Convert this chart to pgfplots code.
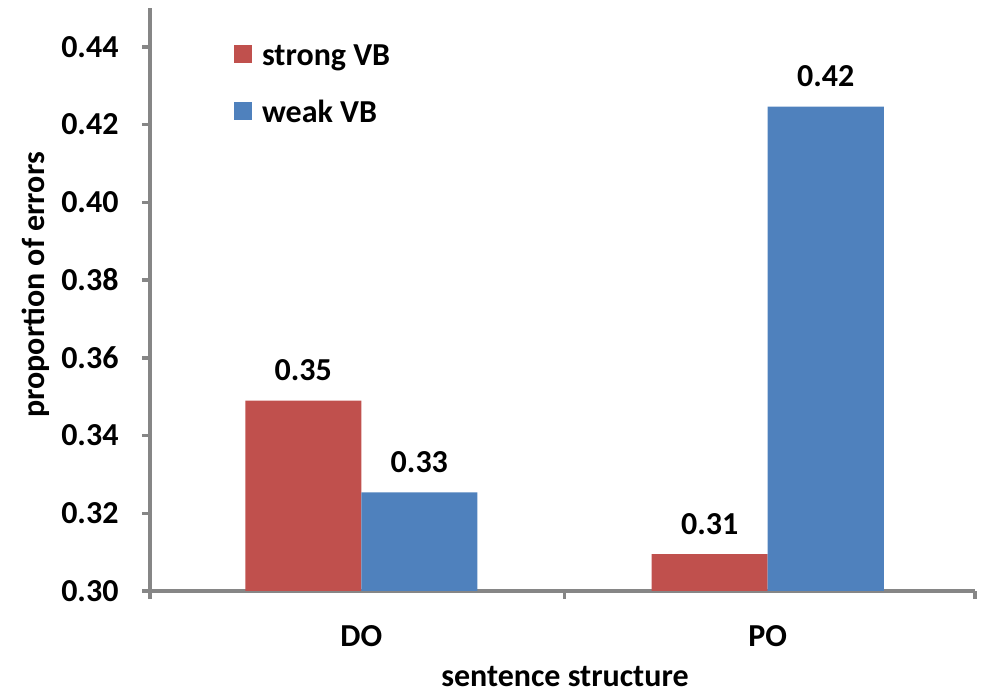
\documentclass[border=0pt]{standalone}
\usepackage{fontspec}
\setmainfont{Carlito}
\usepackage{pgfplots}
\pgfplotsset{compat=1.18}
\definecolor{cred}{HTML}{C0504D}
\definecolor{cblue}{HTML}{4F81BD}
\definecolor{axgray}{HTML}{868686}
\newcommand{\cf}{\fontsize{32}{38}\selectfont\bfseries}
\begin{document}
\begin{tikzpicture}[x=1pt,y=1pt]
\useasboundingbox (0,0) rectangle (985,698);
\begin{axis}[
  at={(150pt,107pt)}, anchor=south west,
  scale only axis, width=825pt, height=583pt,
  xmin=-0.52, xmax=1.51, ymin=0.30, ymax=0.45,
  ybar, bar width=0.2855,
  axis x line*=bottom, axis y line*=left,
  axis line style={axgray, line width=3.5pt},
  tick align=outside, major tick length=8pt,
  tick style={axgray, line width=3.5pt},
  ytick={0.30,0.32,0.34,0.36,0.38,0.40,0.42,0.44},
  yticklabel style={xshift=-20pt, /pgf/number format/fixed, /pgf/number format/fixed zerofill, /pgf/number format/precision=2},
  /pgf/number format/assume math mode=true,
  tick label style={font=\cf, text=black},
  xtick={-0.52,0.5,1.51}, xticklabels={},
  extra x ticks={0,1}, extra x tick labels={DO,PO},
  extra x tick style={major tick length=0pt, xticklabel style={yshift=-31pt}},
  xlabel={sentence structure}, ylabel={proportion of errors},
  label style={font=\cf},
  xlabel style={at={(axis description cs:0.503,-0.146)}, anchor=center},
  ylabel style={at={(axis description cs:-0.139,0.525)}, anchor=center},
  nodes near coords,
  nodes near coords style={font=\cf, text=black, yshift=16pt, /pgf/number format/fixed, /pgf/number format/fixed zerofill, /pgf/number format/precision=2},
  legend style={at={(0.098,0.945)}, anchor=north west, draw=none, fill=none, font=\cf, row sep=30pt},
  legend cell align=left,
]
\addplot[bar shift=-0.14275, fill=cred, draw=none,
  legend image code/.code={\fill[cred] (0pt,-8pt) rectangle (18pt,10pt); \path (26pt,0pt);}]
  coordinates {(0,0.349) (1,0.3095)};
\addlegendentry{strong VB}
\addplot[bar shift=0.14275, fill=cblue, draw=none,
  legend image code/.code={\fill[cblue] (0pt,-8pt) rectangle (18pt,10pt); \path (26pt,0pt);}]
  coordinates {(0,0.3254) (1,0.4246)};
\addlegendentry{weak VB}
\end{axis}
\end{tikzpicture}
\end{document}
